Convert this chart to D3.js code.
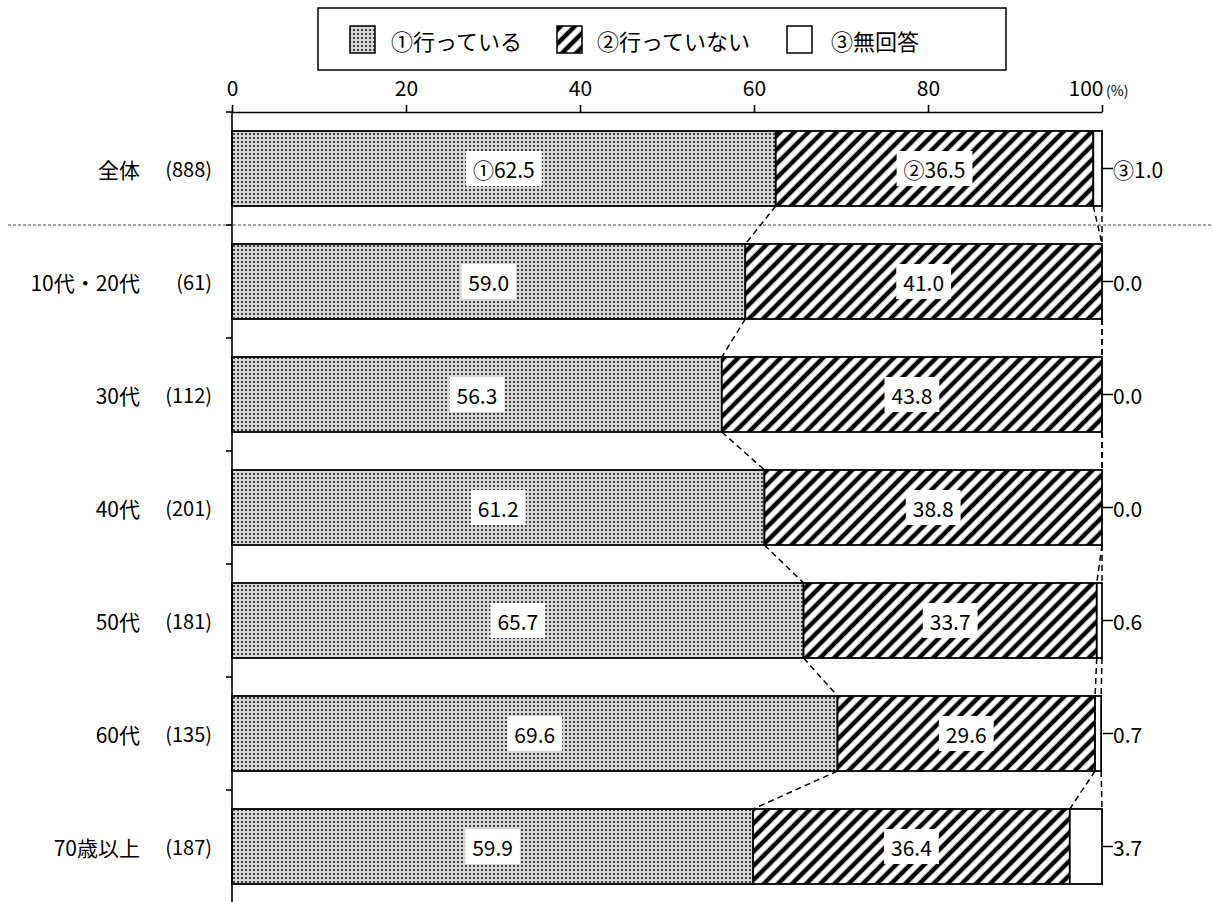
<!DOCTYPE html>
<html><head><meta charset="utf-8">
<script src="https://cdn.jsdelivr.net/npm/d3@7/dist/d3.min.js"></script>
<style>
html,body{margin:0;padding:0;background:#fff;}
svg text{font-family:"Noto Sans CJK JP","Noto Sans",sans-serif;fill:#000;}
</style></head>
<body>
<svg id="chart" width="1213" height="902"></svg>
<script>
const categories = ["全体","10代・20代","30代","40代","50代","60代","70歳以上"];
const counts = [888,61,112,201,181,135,187];
const doing = [62.5,59.0,56.3,61.2,65.7,69.6,59.9];
const notDoing = [36.5,41.0,43.8,38.8,33.7,29.6,36.4];
const noAnswer = [1.0,0.0,0.0,0.0,0.6,0.7,3.7];
const seriesNames = ["①行っている","②行っていない","③無回答"];
const circled = ["①","②","③"];
const tickValues = [0,20,40,60,80,100];

const svg = d3.select("#chart");
svg.append("rect").attr("width",1213).attr("height",902).attr("fill","#fff");

const defs = svg.append("defs");
const pd = defs.append("pattern").attr("id","dots").attr("width",4).attr("height",4).attr("patternUnits","userSpaceOnUse");
pd.append("rect").attr("width",4).attr("height",4).attr("fill","#d6d6d6");
pd.append("rect").attr("x",1).attr("y",1).attr("width",2).attr("height",2).attr("fill","#404040");
const ph = defs.append("pattern").attr("id","hatch").attr("width",10).attr("height",10)
  .attr("patternUnits","userSpaceOnUse").attr("patternTransform","rotate(45)");
ph.append("rect").attr("width",10).attr("height",10).attr("fill","#fff");
ph.append("line").attr("x1",5).attr("y1",-1).attr("x2",5).attr("y2",11).attr("stroke","#000").attr("stroke-width",4.5);
const fills = ["url(#dots)","url(#hatch)","#fff"];

const x = d3.scaleLinear().domain([0,100]).range([232,1102]).clamp(true);
const y = d3.scaleBand().domain(categories).range([112,903]).paddingInner(0.336).paddingOuter(0.168);
const gapHalf = y.step()*y.paddingInner()/2;

const rows = categories.map((c,i)=>{
  const vals=[doing[i],notDoing[i],noAnswer[i]];
  let acc=0; const segs=vals.map((v,k)=>{const s={k,v,x0:acc,x1:acc+v}; acc+=v; return s;});
  return {c,i,n:counts[i],segs};
});

// separator dashed line between 全体 and the rest
svg.append("line").attr("x1",8).attr("x2",1213)
  .attr("y1",y(categories[1])-gapHalf).attr("y2",y(categories[1])-gapHalf)
  .attr("stroke","#444").attr("stroke-width",1).attr("stroke-dasharray","3,2");

// bars
const rowG = svg.selectAll("g.row").data(rows).join("g").attr("class","row");
rowG.selectAll("rect.seg").data(d=>d.segs.map(s=>({...s,row:d}))).join("rect").attr("class","seg")
  .attr("x",d=>x(d.x0)).attr("width",d=>Math.max(0,x(d.x1)-x(d.x0)))
  .attr("y",d=>y(d.row.c)).attr("height",y.bandwidth())
  .attr("fill",d=>fills[d.k]).attr("stroke","#000").attr("stroke-width",1.8);

// connector dashed lines
for(let i=0;i<rows.length-1;i++){
  const a=rows[i], b=rows[i+1];
  for(let k=0;k<3;k++){
    svg.append("line")
      .attr("x1",x(a.segs[k].x1)).attr("y1",y(a.c)+y.bandwidth())
      .attr("x2",x(b.segs[k].x1)).attr("y2",y(b.c))
      .attr("stroke","#000").attr("stroke-width",1.5).attr("stroke-dasharray","6,4");
  }
}

// top axis
const ax = svg.append("g").attr("transform","translate(0,112)")
  .call(d3.axisTop(x).tickValues(tickValues).tickSize(7).tickSizeOuter(0).tickPadding(9));
ax.select(".domain").attr("stroke","#000").attr("stroke-width",1.6);
ax.selectAll(".tick line").attr("stroke","#000").attr("stroke-width",1.6);
ax.selectAll(".tick text").attr("font-size",21).attr("font-family",null);
ax.selectAll(".tick text").filter(d=>d===100).attr("text-anchor","end").attr("x",1);
ax.append("text").attr("x",1106).attr("y",-16).attr("font-size",14).attr("text-anchor","start").text("(%)");

// left axis line and ticks at band boundaries
svg.append("line").attr("x1",232).attr("x2",232).attr("y1",112).attr("y2",903).attr("stroke","#000").attr("stroke-width",1.6);
svg.selectAll("line.ltick").data(categories).join("line").attr("class","ltick")
  .attr("x1",226).attr("x2",232)
  .attr("y1",d=>y(d)-gapHalf).attr("y2",d=>y(d)-gapHalf)
  .attr("stroke","#000").attr("stroke-width",1.6);

// category labels
rowG.append("text").attr("x",140).attr("y",d=>y(d.c)+y.bandwidth()/2)
  .attr("text-anchor","end").attr("dominant-baseline","central").attr("font-size",21).text(d=>d.c);
rowG.append("text").attr("x",212).attr("y",d=>y(d.c)+y.bandwidth()/2)
  .attr("text-anchor","end").attr("dominant-baseline","central").attr("font-size",20).text(d=>"("+d.n+")");

// inside value labels
rows.forEach(r=>{
  r.segs.slice(0,2).forEach(s=>{
    const cx=(x(s.x0)+x(s.x1))/2, cy=y(r.c)+y.bandwidth()/2;
    const g=svg.append("g");
    const rect=g.append("rect").attr("fill","#fff");
    const t=g.append("text").attr("x",cx).attr("y",cy).attr("text-anchor","middle").attr("dominant-baseline","central")
      .attr("font-size",21).text((r.i===0?circled[s.k]:"")+s.v.toFixed(1));
    const bb=t.node().getBBox();
    rect.attr("x",cx-bb.width/2-7).attr("width",bb.width+14).attr("y",cy-17.5).attr("height",35);
  });
  // outside label for no answer
  const cy=y(r.c)+y.bandwidth()/2;
  svg.append("line").attr("x1",x(100)+1).attr("x2",x(100)+11).attr("y1",cy).attr("y2",cy).attr("stroke","#000").attr("stroke-width",1.5);
  svg.append("text").attr("x",x(100)+11).attr("y",cy).attr("dominant-baseline","central").attr("font-size",21)
    .text((r.i===0?circled[2]:"")+r.segs[2].v.toFixed(1));
});

// legend
svg.append("rect").attr("x",318).attr("y",8).attr("width",688).attr("height",62).attr("fill","#fff").attr("stroke","#000").attr("stroke-width",1.5);
const legX=[350,557,787], legTX=[391,597,831];
seriesNames.forEach((n,k)=>{
  svg.append("rect").attr("x",legX[k]).attr("y",26).attr("width",25).attr("height",27).attr("fill",fills[k]).attr("stroke","#000").attr("stroke-width",1.5);
  svg.append("text").attr("x",legTX[k]).attr("y",40).attr("dominant-baseline","central").attr("font-size",22).text(n);
});
</script>
</body></html>
